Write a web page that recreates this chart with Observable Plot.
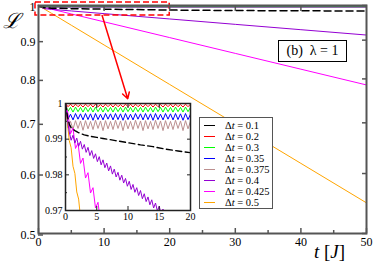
<!DOCTYPE html>
<html><head><meta charset="utf-8">
<script src="https://cdn.jsdelivr.net/npm/d3@7"></script>
<script src="https://cdn.jsdelivr.net/npm/@observablehq/plot@0.6"></script>
<style>
body{margin:0;background:#fff;}
#wrap{position:relative;width:374px;height:265px;overflow:hidden;font-family:"Liberation Serif",serif;}
#wrap svg{position:absolute;overflow:visible;}
#legend{position:absolute;left:199px;top:117px;width:74px;height:92px;border:1px solid #555;background:#fff;font-size:10.5px;box-sizing:border-box;padding-top:2px;}
#legend .row{height:11px;line-height:11px;white-space:nowrap;display:flex;align-items:center;}
#legend .sw{display:inline-block;width:11px;height:0;border-top:1px solid;margin-left:4px;margin-right:10px;}
#tag{position:absolute;left:278px;top:40px;width:69px;height:22px;border:1.5px solid #000;box-sizing:border-box;font-size:14px;line-height:19px;text-align:center;background:#fff;}
#ylab{position:absolute;left:3px;top:6px;font-size:21px;font-family:"DejaVu Serif",serif;font-style:italic;}
#xlab{position:absolute;left:314px;top:242px;font-size:19px;line-height:20px;}
</style></head><body><div id="wrap"></div>
<script>
// ---------- legend / series ----------
const dtLabels = ["0.1","0.2","0.3","0.35","0.375","0.4","0.425","0.5"];
const colors = ["#000000","#ff0000","#00ff00","#0000ff","#bc8f8f","#9400d3","#ff00ff","#ffa500"];

// ---------- main panel data (t in J^-1, L on log axis) ----------
const mainT = [0, 0.5, 1, 2, 5, 10, 20, 30, 40, 50];
const mainL01   = [1, 0.9950, 0.9931, 0.9919, 0.9905, 0.9890, 0.9862, 0.9848, 0.9840, 0.9834];
const mainL02   = [1, 0.9994, 0.9994, 0.9994, 0.9994, 0.9994, 0.9994, 0.9994, 0.9994, 0.9994];
const mainL03   = [1, 0.9983, 0.9983, 0.9983, 0.9983, 0.9983, 0.9983, 0.9983, 0.9983, 0.9983];
const mainL035  = [1, 0.9963, 0.9963, 0.9963, 0.9963, 0.9963, 0.9963, 0.9963, 0.9963, 0.9963];
const mainL0375 = [1, 0.9940, 0.9940, 0.9940, 0.9940, 0.9940, 0.9940, 0.9940, 0.9940, 0.9940];
const mainL04   = [1, 0.9935, 0.9900, 0.9884, 0.9836, 0.9756, 0.9599, 0.9443, 0.9291, 0.9141];
const mainL0425 = [1, 0.9960, 0.9936, 0.9889, 0.9747, 0.9516, 0.9070, 0.8645, 0.8240, 0.7854];
const mainL05   = [1, 0.9940, 0.9881, 0.9763, 0.9418, 0.8869, 0.7866, 0.6977, 0.6188, 0.5488];
const mainX = [0, 50];
const mainY = [0.5, 1];
const mainXTicks = [0, 10, 20, 30, 40, 50];
const mainXMinor = [5, 15, 25, 35, 45];
const mainXTop = [10, 20, 30, 40];
const mainYTicks = [0.5, 0.6, 0.7, 0.8, 0.9, 1];

// ---------- inset data ----------
const insetX = [0, 20];
const insetY = [0.97, 1];
const insetXTicks = [0, 5, 10, 15, 20];
const insetYTicks = [0.97, 0.98, 0.99, 1];
const insetYMinor = [0.975, 0.985, 0.995];
const insetT = [0,0.4,0.8,1.2,1.6,2,2.4,2.8,3.2,3.6,4,4.4,4.8,5.2,5.6,6,6.4,6.8,7.2,7.6,8,8.4,8.8,9.2,9.6,10,10.4,10.8,11.2,11.6,12,12.4,12.8,13.2,13.6,14,14.4,14.8,15.2,15.6,16,16.4,16.8,17.2,17.6,18,18.4,18.8,19.2,19.6,20];
const insetL02 = [1,
 0.9991,0.9998,0.9990,0.9998,0.9991,0.9997,0.9990,0.9998,0.9991,0.9998,
 0.9990,0.9998,0.9991,0.9997,0.9990,0.9998,0.9991,0.9998,0.9990,0.9998,
 0.9991,0.9997,0.9990,0.9998,0.9991,0.9998,0.9990,0.9998,0.9991,0.9997,
 0.9990,0.9998,0.9991,0.9998,0.9990,0.9998,0.9991,0.9997,0.9990,0.9998,
 0.9991,0.9998,0.9990,0.9998,0.9991,0.9997,0.9990,0.9998,0.9991,0.9998];
const insetL03 = [1,
 0.9978,0.9989,0.9976,0.9990,0.9977,0.9989,0.9976,0.9990,0.9977,0.9989,
 0.9976,0.9990,0.9977,0.9989,0.9976,0.9990,0.9977,0.9989,0.9976,0.9990,
 0.9977,0.9989,0.9976,0.9990,0.9977,0.9989,0.9976,0.9990,0.9977,0.9989,
 0.9976,0.9990,0.9977,0.9989,0.9976,0.9990,0.9977,0.9989,0.9976,0.9990,
 0.9977,0.9989,0.9976,0.9990,0.9977,0.9989,0.9976,0.9990,0.9977,0.9989];
const insetL035 = [1,
 0.9956,0.9970,0.9954,0.9972,0.9956,0.9971,0.9954,0.9972,0.9955,0.9971,
 0.9953,0.9972,0.9955,0.9970,0.9954,0.9972,0.9956,0.9971,0.9954,0.9972,
 0.9955,0.9971,0.9953,0.9972,0.9955,0.9970,0.9954,0.9972,0.9956,0.9971,
 0.9954,0.9972,0.9955,0.9971,0.9953,0.9972,0.9955,0.9970,0.9954,0.9972,
 0.9956,0.9971,0.9954,0.9972,0.9955,0.9971,0.9953,0.9972,0.9955,0.9970];
const insetL0375 = [1,
 0.9932,0.9950,0.9928,0.9952,0.9930,0.9951,0.9925,0.9952,0.9929,0.9950,
 0.9927,0.9953,0.9930,0.9951,0.9924,0.9952,0.9929,0.9950,0.9927,0.9953,
 0.9930,0.9951,0.9924,0.9952,0.9929,0.9950,0.9927,0.9953,0.9930,0.9951,
 0.9924,0.9952,0.9929,0.9950,0.9927,0.9953,0.9930,0.9951,0.9924,0.9952,
 0.9929,0.9950,0.9927,0.9953,0.9930,0.9951,0.9924,0.9952,0.9929,0.9950];
const insetT01 = [0,0.3,0.6,0.9,1.5,2,3,4,5,6,8,10,12,14,16,18,20];
const insetL01 = [1,0.9965,0.9942,0.9932,0.9924,0.9919,0.9912,0.9908,0.9905,0.9902,0.9896,0.9890,0.9884,0.9879,0.9872,0.9867,0.9862];
const insetT04 = [0,0.3,0.6,0.9,1.2,1.5,1.8,2.1,2.4,2.7,3,3.3,3.6,3.9,4.2,4.5,4.8,5.1,5.4,5.7,6,6.3,6.6,6.9,7.2,7.5,7.8,8.1,8.4,8.7,9,9.3,9.6,9.9,10.2,10.5,10.8,11.1,11.4,11.7,12,12.3,12.6,12.9,13.2,13.5,13.8,14.1,14.4,14.7,15,15.3,15.6,15.9];
const insetL04 = [1,0.9955,0.9920,0.9897,0.9911,0.9889,0.9903,0.9880,0.9894,0.9872,0.9885,0.9863,0.9877,0.9854,0.9868,0.9846,0.9859,0.9837,0.9851,0.9828,0.9842,0.9820,0.9833,0.9811,0.9825,0.9802,0.9816,0.9794,0.9807,0.9785,0.9799,0.9777,0.9790,0.9768,0.9782,0.9759,0.9773,0.9751,0.9764,0.9742,0.9756,0.9733,0.9747,0.9725,0.9738,0.9716,0.9730,0.9707,0.9721,0.9699,0.9712,0.9690,0.9704,0.9681];
const insetT0425 = [0,0.4,0.8,1.2,1.6,2,2.4,2.8,3.2,3.6,4,4.4,4.8,5.2,5.6,6];
const insetL0425 = [1,0.9972,0.9915,0.9931,0.9874,0.9889,0.9832,0.9847,0.9791,0.9806,0.9749,0.9764,0.9707,0.9723,0.9666,0.9681];
const insetT05 = [0,0.3,0.6,0.9,1.2,1.5,1.8,2.1,2.4,2.7];
const insetL05 = [1,0.9948,0.9896,0.9876,0.9824,0.9804,0.9752,0.9732,0.9680,0.9660];

// annotation: zoom box + arrow
const zoomBox = [{x1: insetX[0], x2: insetX[1], y1: insetY[0], y2: insetY[1]}];
const zoomArrow = [{x1: 9.7, y1: insetY[0], x2: 13.6, y2: 0.753}];

const rows = (ts, vs) => ts.map((t, i) => ({t, L: vs[i]})).filter(d => d.L != null);

const mainVals = [mainL01, mainL02, mainL03, mainL035, mainL0375, mainL04, mainL0425, mainL05];
const drawOrder = [7, 6, 5, 4, 3, 2, 1, 0];
const mainLines = drawOrder.map(i => Plot.line(rows(mainT, mainVals[i]), {
  x: "t", y: "L", stroke: colors[i], strokeWidth: i === 0 ? 1.5 : 1,
  strokeDasharray: i === 0 ? "7,4" : null
}));

const axisCol = "#555";
const main = Plot.plot({
  width: 374, height: 265,
  marginLeft: 38, marginRight: 8, marginTop: 5, marginBottom: 32,
  style: {fontFamily: "Liberation Serif", fontSize: "12px", background: "transparent", color: "#000"},
  x: {domain: mainX},
  y: {type: "log", domain: mainY},
  marks: [
    ...mainLines,
    Plot.rect(zoomBox, {x1: "x1", x2: "x2", y1: "y1", y2: "y2", fill: "none", stroke: "red", strokeWidth: 1.5, strokeDasharray: "6,3", insetTop: -3, insetLeft: -3}),
    Plot.arrow(zoomArrow, {x1: "x1", y1: "y1", x2: "x2", y2: "y2", stroke: "red", strokeWidth: 1.5, headLength: 7}),
    Plot.frame({stroke: axisCol, strokeWidth: 2}),
    Plot.axisX(mainXTicks, {anchor: "bottom", tickSize: -5, tickPadding: 9, label: null, stroke: axisCol, strokeWidth: 1.5}),
    Plot.axisX(mainXMinor, {anchor: "bottom", tickSize: -3, tickFormat: () => "", label: null, stroke: axisCol, strokeWidth: 1.5}),
    Plot.axisX(mainXTop, {anchor: "top", tickSize: -5, tickFormat: () => "", label: null, stroke: axisCol, strokeWidth: 1.5}),
    Plot.axisY(mainYTicks, {anchor: "left", tickSize: -5, tickPadding: 8, dy: 1.5, label: null, tickFormat: d => String(d), stroke: axisCol, strokeWidth: 1.5}),
    Plot.axisY(mainYTicks, {anchor: "right", tickSize: -5, tickFormat: () => "", label: null, stroke: axisCol, strokeWidth: 1.5})
  ]
});
main.style.left = "0px"; main.style.top = "0px";

const insetSeries = [
  [insetT, insetL0375, 4], [insetT, insetL035, 3], [insetT, insetL03, 2], [insetT, insetL02, 1],
  [insetT05, insetL05, 7], [insetT0425, insetL0425, 6], [insetT04, insetL04, 5], [insetT01, insetL01, 0]
];
const insetLines = insetSeries.map(([ts, vs, i]) => Plot.line(rows(ts, vs), {
  x: "t", y: "L", stroke: colors[i], strokeWidth: i === 0 ? 1.4 : 1,
  strokeDasharray: i === 0 ? "6,3.5" : null, clip: true
}));

const inset = Plot.plot({
  width: 161, height: 128,
  marginLeft: 30, marginRight: 6, marginTop: 5, marginBottom: 16,
  style: {fontFamily: "Liberation Serif", fontSize: "10px", background: "transparent", color: "#000"},
  x: {domain: insetX},
  y: {domain: insetY},
  marks: [
    Plot.frame({fill: "white", stroke: null}),
    ...insetLines,
    Plot.frame({stroke: "#222", strokeWidth: 1.5}),
    Plot.axisX(insetXTicks, {anchor: "bottom", tickSize: -4, tickPadding: 6, label: null, stroke: "#222"}),
    Plot.axisX(insetXTicks, {anchor: "top", tickSize: -4, tickFormat: () => "", label: null, stroke: "#222"}),
    Plot.axisY(insetYTicks, {anchor: "left", tickSize: -4, tickPadding: 7, label: null, tickFormat: d => String(d), stroke: "#222"}),
    Plot.axisY(insetYMinor, {anchor: "left", tickSize: -2, tickFormat: () => "", label: null, stroke: "#222"}),
    Plot.axisY(insetYTicks, {anchor: "right", tickSize: -4, tickFormat: () => "", label: null, stroke: "#222"})
  ]
});
inset.style.left = "35px"; inset.style.top = "98px";

const wrap = document.getElementById("wrap");
wrap.appendChild(main);
wrap.appendChild(inset);

// legend
const legend = document.createElement("div");
legend.id = "legend";
dtLabels.forEach((lab, i) => {
  const r = document.createElement("div");
  r.className = "row";
  const sw = document.createElement("span");
  sw.className = "sw";
  sw.style.borderTopColor = colors[i];
  r.appendChild(sw);
  const tx = document.createElement("span");
  tx.innerHTML = "\u0394<i>t</i> = " + lab;
  r.appendChild(tx);
  legend.appendChild(r);
});
wrap.appendChild(legend);

const tag = document.createElement("div");
tag.id = "tag";
tag.innerHTML = "(b)&nbsp; \u03bb = 1";
wrap.appendChild(tag);

const ylab = document.createElement("div");
ylab.id = "ylab";
ylab.textContent = "\u2112";
wrap.appendChild(ylab);

const xlab = document.createElement("div");
xlab.id = "xlab";
xlab.innerHTML = "<i>t</i> [<i>J</i>]";
wrap.appendChild(xlab);
</script></body></html>
